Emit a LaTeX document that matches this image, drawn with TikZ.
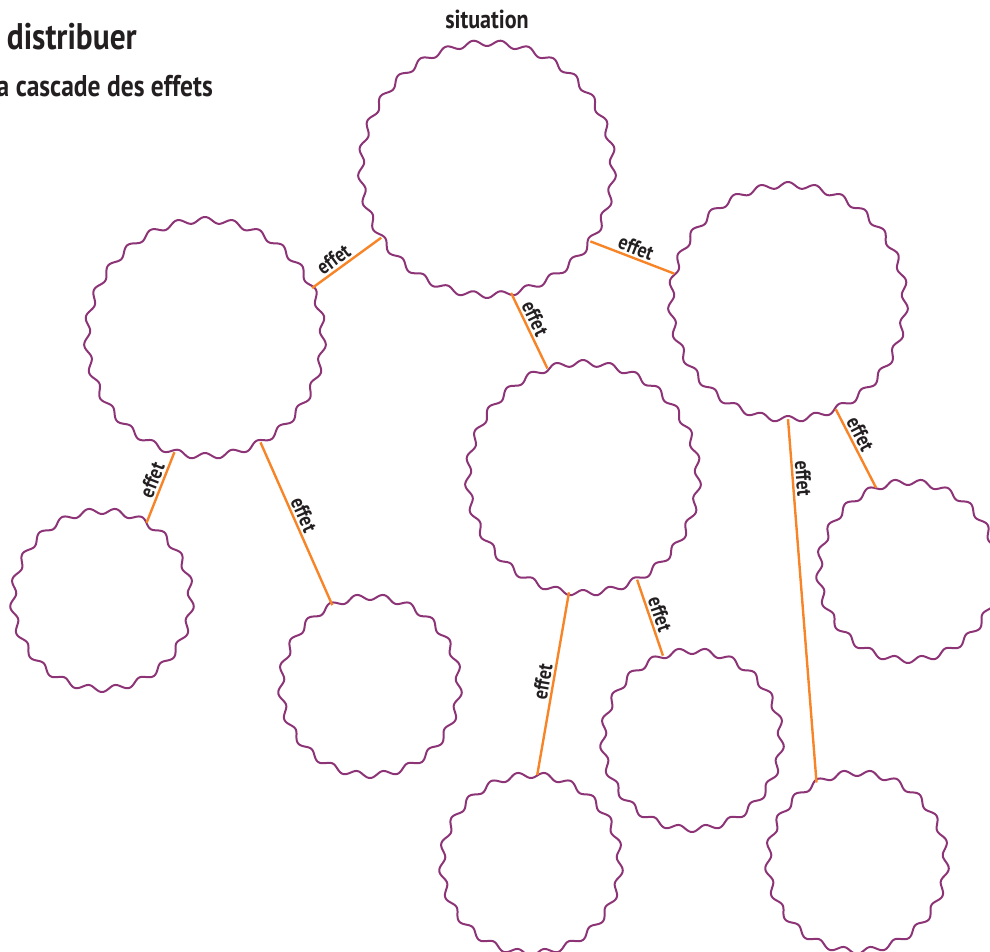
\documentclass[tikz,border=0pt]{standalone}
\usepackage{fontspec}
\setmainfont{PT Sans}[FakeStretch=0.85]
\usetikzlibrary{calc}
\definecolor{plum}{RGB}{140,52,118}
\definecolor{orng}{RGB}{247,133,40}
\definecolor{ink}{RGB}{35,31,32}
\tikzset{
  bubble/.style={circle, draw=none, inner sep=0pt, minimum size=#1},
  link/.style={draw=orng, line width=2.4pt},
  effetlbl/.style={sloped, above, inner sep=2pt, text=ink, font=\bfseries\fontsize{21}{21}\selectfont},
  ring/.style={draw=plum, line width=2pt},
}
\newcommand\wavyring[3]{%
  \draw[ring, shift={(#1.center)}] plot[domain=0:360, samples=700, variable=\t] (\t:{#2+3*sin(#3*\t)}) -- cycle;
}
\begin{document}
\begin{tikzpicture}[x=1pt,y=-1pt]
\useasboundingbox (0,0) rectangle (990,952);
% title
\node[anchor=base east, inner sep=0, text=ink, font=\bfseries\fontsize{37}{40}\selectfont] (t1) at (137,50) {à distribuer};
\node[anchor=base east, inner sep=0, text=ink, font=\bfseries\fontsize{30}{32}\selectfont] (t2) at (213,97) {la cascade des effets};
\node[anchor=base, inner sep=0, text=ink, font=\bfseries\fontsize{26}{28}\selectfont] (sit) at (487,29) {situation};
% bubbles
\node[bubble=252pt] (A) at (487,169) {};
\node[bubble=236pt] (B) at (205,338) {};
\node[bubble=234pt] (C) at (788,302) {};
\node[bubble=230pt] (D) at (583,478) {};
\node[bubble=178pt] (E) at (102,600) {};
\node[bubble=178pt] (F) at (370,686) {};
\node[bubble=178pt] (G) at (531,864) {};
\node[bubble=178pt] (H) at (692,740) {};
\node[bubble=178pt] (I) at (908,571) {};
\node[bubble=178pt] (J) at (857,862) {};
\wavyring{A}{126}{29}
\wavyring{B}{118}{27}
\wavyring{C}{117}{27}
\wavyring{D}{115}{27}
\wavyring{E}{89}{21}
\wavyring{F}{89}{21}
\wavyring{G}{89}{21}
\wavyring{H}{89}{21}
\wavyring{I}{89}{21}
\wavyring{J}{89}{21}
% links
\draw[link] (A.213) -- node[effetlbl, pos=0.6] {effet} (B.25);
\draw[link] (A.325) -- node[effetlbl, pos=0.5] {effet} (C.166);
\draw[link] (A.281) -- node[effetlbl, pos=0.4] {effet} (D.108);
\draw[link] (B.255) -- node[effetlbl, pos=0.45] {effet} (E.60);
\draw[link] (B.298) -- node[effetlbl, pos=0.47] {effet} (F.115);
\draw[link] (C.294) -- node[effetlbl, pos=0.38] {effet} (I.111);
\draw[link] (C.270) -- node[effetlbl, pos=0.165] {effet} (J.117);
\draw[link] (D.263) -- node[effetlbl, pos=0.5] {effet} (G.86);
\draw[link] (D.298) -- node[effetlbl, pos=0.5] {effet} (H.109);
\end{tikzpicture}
\end{document}
